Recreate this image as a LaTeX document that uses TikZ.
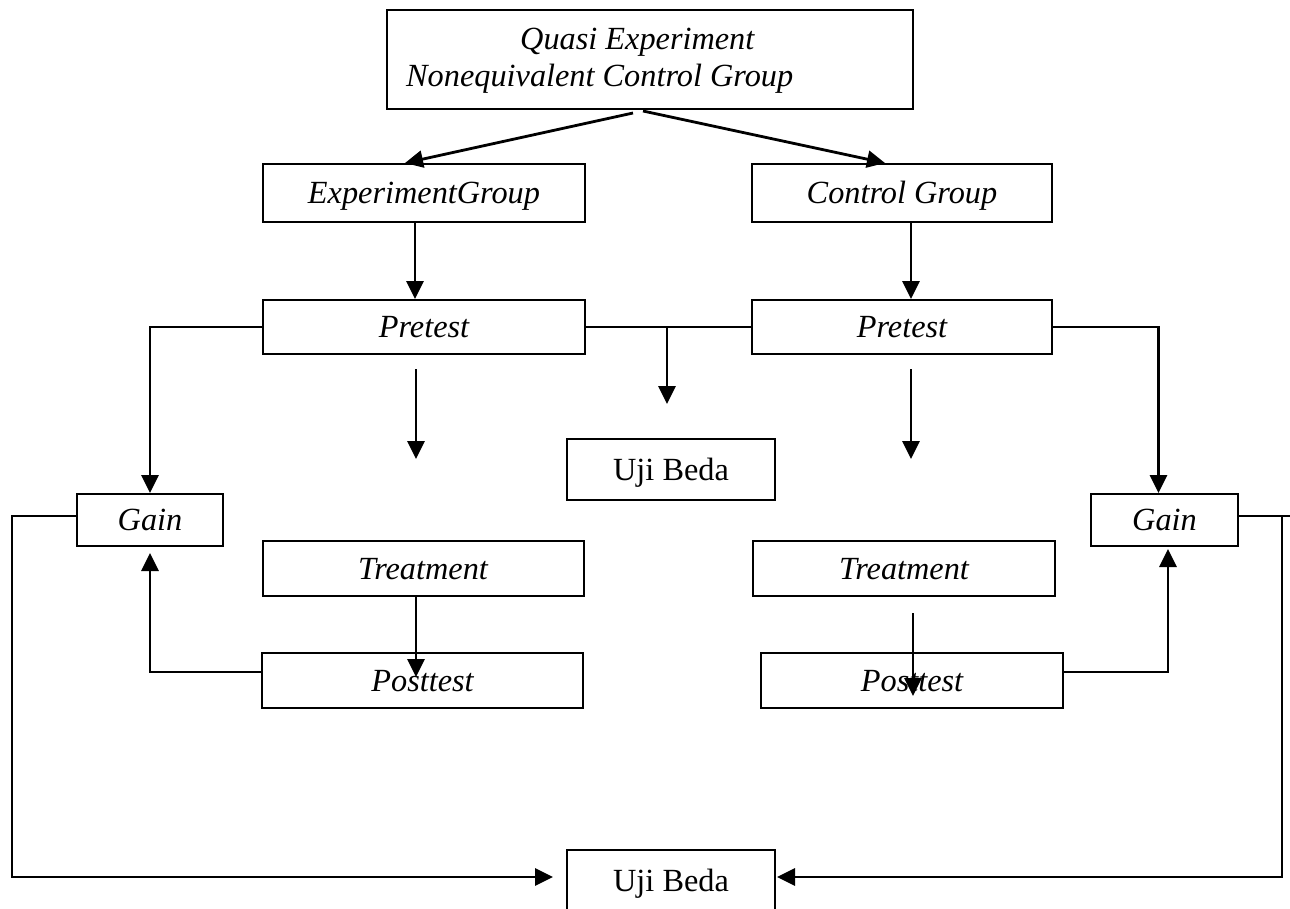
\documentclass[tikz,border=0pt]{standalone}
\usepackage{fontspec}
\setmainfont{Liberation Serif}
\usetikzlibrary{arrows.meta}
\begin{document}
\begin{tikzpicture}[x=1pt,y=-1pt,
  box/.style={draw,line width=2pt,inner sep=0pt,text height=21pt,text depth=0pt,
    font=\fontsize{32.3}{36}\selectfont\itshape},
  ubox/.style={box,font=\fontsize{32.3}{36}\selectfont},
  txt/.style={inner sep=0pt,anchor=base west,font=\fontsize{32.3}{36}\selectfont\itshape},
  arr/.style={line width=2.8pt,-{Triangle[length=18pt,width=17pt]}},
  ln/.style={line width=2pt}]
\useasboundingbox (0,0) rectangle (1290,908);
\fill[white] (0,0) rectangle (1290,908);
% boxes
\node[box,minimum width=526pt,minimum height=99pt] (top) at (650,59.5) {};
\node[txt] (t1) at (520,49) {Quasi Experiment};
\node[txt] (t2) at (406,86) {Nonequivalent Control Group};
\node[box,minimum width=322pt,minimum height=58pt] (eg) at (424,193) {ExperimentGroup};
\node[box,minimum width=300pt,minimum height=58pt] (cg) at (902,193) {Control Group};
\node[box,minimum width=322pt,minimum height=54pt] (pre1) at (424,327) {Pretest};
\node[box,minimum width=300pt,minimum height=54pt] (pre2) at (902,327) {Pretest};
\node[ubox,minimum width=208pt,minimum height=61pt] (uji1) at (671,469.5) {Uji Beda};
\node[box,minimum width=146pt,minimum height=52pt] (gain1) at (150,520) {Gain};
\node[box,minimum width=147pt,minimum height=52pt] (gain2) at (1164.5,520) {Gain};
\node[box,minimum width=321pt,minimum height=55pt] (treat1) at (423,568.5) {Treatment};
\node[box,minimum width=302pt,minimum height=55pt] (treat2) at (904,568.5) {Treatment};
\node[box,minimum width=321pt,minimum height=55pt] (post1) at (422.5,680.5) {Posttest};
\node[box,minimum width=302pt,minimum height=55pt] (post2) at (912,680.5) {Posttest};
\node[ubox,minimum width=208pt,minimum height=61pt] (uji2) at (671,880.5) {Uji Beda};
% free coordinates
\coordinate (m1) at (667,327);
\coordinate (m2) at (667,404);
\coordinate (L2) at (12,877);
\coordinate (R0) at (1290,516);
\coordinate (R1) at (1282,516);
\coordinate (R2) at (1282,877);
% connectors
\draw[arr] ([xshift=-17pt,yshift=-3pt]top.south) -- ([xshift=-19pt]eg.north);
\draw[arr] ([xshift=-7pt,yshift=-1pt]top.south) -- ([xshift=-17pt]cg.north);
\draw[arr] ([xshift=-9pt]eg.south) -- ([xshift=-9pt]pre1.north);
\draw[arr] ([xshift=9pt]cg.south) -- ([xshift=9pt]pre2.north);
\draw[ln] (pre1.east) -- (pre2.west);
\draw[arr] (m1) -- (m2);
\draw[arr] (pre1.west) -| (gain1.north);
\draw[arr] (pre2.east) -| ([xshift=-6pt]gain2.north);
\draw[arr] ([xshift=-8pt,yshift=-14pt]pre1.south) -- ([xshift=-7pt,yshift=81pt]treat1.north);
\draw[arr] ([xshift=9pt,yshift=-14pt]pre2.south) -- ([xshift=7pt,yshift=81pt]treat2.north);
\draw[arr] ([xshift=-7pt]treat1.south) -- ([xshift=-6.5pt,yshift=-25pt]post1.north);
\draw[arr] ([xshift=9pt,yshift=-16pt]treat2.south) -- ([xshift=1pt,yshift=-44pt]post2.north);
\draw[arr] ([yshift=8.5pt]post1.west) -| ([yshift=-6pt]gain1.south);
\draw[arr] ([yshift=8.5pt]post2.east) -| ([xshift=3.5pt,yshift=-2pt]gain2.south);
\draw[arr] ([yshift=4pt]gain1.west) -| (L2) -- ([xshift=-13pt,yshift=3.5pt]uji2.west);
\draw[ln] ([yshift=4pt]gain2.east) -- (R0);
\draw[arr] (R1) -- (R2) -- ([xshift=1pt,yshift=3.5pt]uji2.east);
\end{tikzpicture}
\end{document}
